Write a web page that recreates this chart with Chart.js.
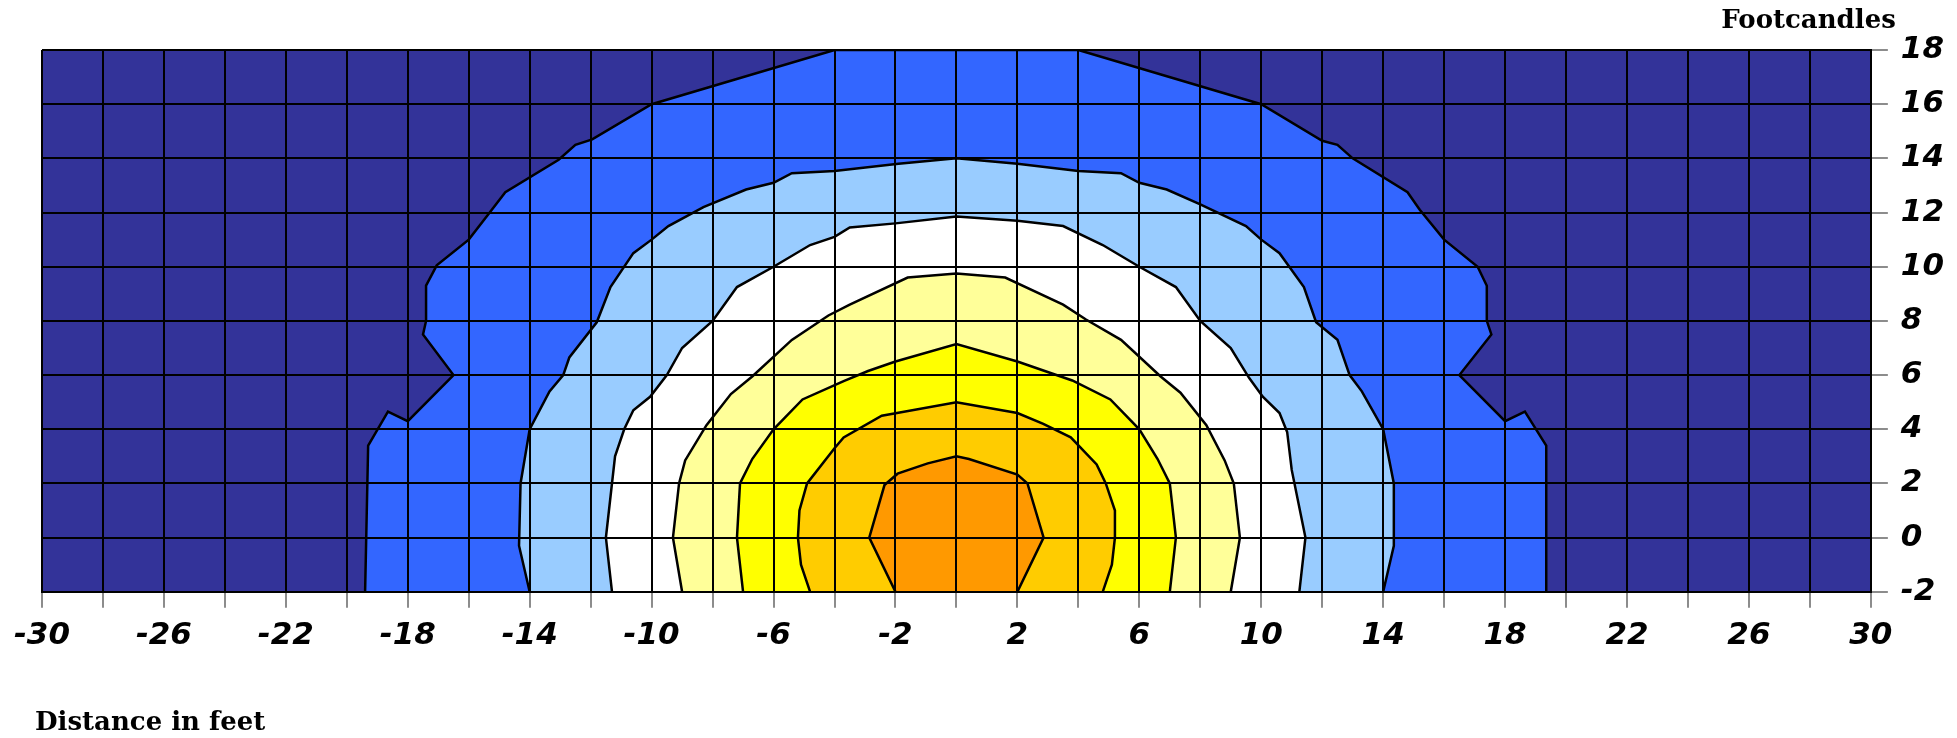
<!DOCTYPE html>
<html>
<head>
<meta charset="utf-8">
<title>Footcandles</title>
<script src="https://cdn.jsdelivr.net/npm/chart.js@4"></script>
<style>
  html, body { margin: 0; padding: 0; background: #fff; }
  #wrap { width: 1957px; height: 738px; position: relative; }
</style>
</head>
<body>
<div id="wrap"><canvas id="isoChart"></canvas></div>
<script>
// ── Axes ───────────────────────────────────────────────────────
const xRange = [-30, 30];
const yRange = [-2, 18];
const xTickLabels = [-30, -26, -22, -18, -14, -10, -6, -2, 2, 6, 10, 14, 18, 22, 26, 30];
const xAxisTitle = 'Distance in feet';
const yAxisTitle = 'Footcandles';

// ── Contour bands (outer edge of each colour) ─
const bandColors = ['#333399', '#3366FF', '#99CCFF', '#FFFFFF', '#FFFF99', '#FFFF00', '#FFCC00', '#FF9900'];

const edgeBlue = [
  [-19.4, -2], [-19.3, 3.4], [-18.65, 4.65], [-18.0, 4.3], [-16.5, 6.0], [-17.5, 7.5], [-17.4, 8.0],
  [-17.4, 9.3], [-17.05, 10.05], [-16.0, 11.0], [-15.35, 11.95], [-14.8, 12.75], [-13.05, 13.95],
  [-12.5, 14.5], [-11.95, 14.7], [-10.0, 16.0], [-4.0, 18.0],
  [4.0, 18.0], [10.0, 16.0], [12.0, 14.65], [12.5, 14.5], [13.0, 14.0], [14.8, 12.75], [15.2, 12.1],
  [16.0, 11.0], [17.1, 10.0], [17.4, 9.3], [17.4, 8.0], [17.55, 7.5], [16.5, 6.0], [18.0, 4.3],
  [18.65, 4.65], [19.35, 3.4], [19.35, -2],
];
const edgeLightBlue = [
  [-14.0, -2], [-14.35, -0.3], [-14.3, 2.0], [-14.0, 4.0], [-13.35, 5.4], [-12.9, 6.0], [-12.7, 6.65],
  [-11.8, 7.95], [-11.35, 9.25], [-10.6, 10.5], [-10.0, 11.0], [-9.45, 11.5], [-8.3, 12.2],
  [-6.9, 12.85], [-6.0, 13.1], [-5.4, 13.45], [-4.0, 13.53], [-1.9, 13.8], [0, 14.0],
  [2.0, 13.8], [4.0, 13.53], [5.4, 13.45], [6.0, 13.1], [6.9, 12.85], [8.0, 12.3], [9.5, 11.5],
  [10.0, 11.0], [10.6, 10.5], [11.4, 9.25], [11.8, 7.95], [12.5, 7.3], [12.9, 6.0], [13.3, 5.4],
  [14.0, 4.0], [14.35, 2.0], [14.35, -0.3], [14.0, -2],
];
const edgeWhite = [
  [-11.3, -2], [-11.5, 0], [-11.2, 3.0], [-10.9, 4.0], [-10.6, 4.7], [-10.05, 5.2], [-9.5, 6.0],
  [-9.0, 7.0], [-8.0, 8.0], [-7.2, 9.25], [-6.0, 10.0], [-4.8, 10.8], [-4.0, 11.1], [-3.5, 11.45],
  [-2.0, 11.6], [0, 11.85],
  [2.0, 11.7], [3.5, 11.5], [4.8, 10.8], [6.0, 10.0], [7.2, 9.25], [8.0, 8.0], [9.0, 7.0], [9.6, 5.9],
  [10.05, 5.2], [10.6, 4.6], [10.85, 3.9], [11.0, 2.5], [11.45, 0], [11.25, -2],
];
const edgeLightYellow = [
  [-9.0, -2], [-9.3, 0], [-9.1, 2.0], [-8.9, 2.85], [-8.2, 4.15], [-7.4, 5.3], [-6.7, 5.95],
  [-5.4, 7.3], [-4.2, 8.2], [-3.5, 8.6], [-1.6, 9.6], [0, 9.75],
  [1.6, 9.6], [3.5, 8.6], [4.25, 8.05], [5.4, 7.3], [6.7, 5.95], [7.35, 5.35], [8.2, 4.15],
  [8.8, 2.85], [9.1, 2.0], [9.3, 0], [9.0, -2],
];
const edgeYellow = [
  [-7.0, -2], [-7.2, 0], [-7.1, 2.0], [-6.7, 2.9], [-6.0, 4.0], [-5.05, 5.1], [-3.7, 5.78],
  [-2.9, 6.15], [-2.0, 6.5], [0, 7.15],
  [2.0, 6.5], [2.9, 6.15], [3.8, 5.8], [5.05, 5.1], [6.0, 4.0], [6.6, 2.9], [7.0, 2.0], [7.2, 0], [7.0, -2],
];
const edgeGold = [
  [-4.8, -2], [-5.1, -1.0], [-5.2, 0], [-5.15, 1.0], [-4.9, 2.0], [-4.0, 3.3], [-3.7, 3.7],
  [-2.45, 4.5], [-1.95, 4.6], [0, 5.0],
  [2.0, 4.6], [2.85, 4.2], [3.75, 3.7], [4.6, 2.7], [4.9, 2.0], [5.2, 1.0], [5.2, 0], [5.1, -1.0], [4.8, -2],
];
const edgeOrange = [
  [-2.0, -2], [-2.86, 0], [-2.36, 1.94], [-1.93, 2.36], [-0.94, 2.74], [0, 3.0], [0.41, 2.9],
  [2.0, 2.33], [2.33, 2.0], [2.86, 0], [2.0, -2],
];

// ── Construction des jeux de données ───────────────────────────
const frame = [[xRange[0], yRange[0]], [xRange[0], yRange[1]], [xRange[1], yRange[1]], [xRange[1], yRange[0]]];
const edges = [frame, edgeBlue, edgeLightBlue, edgeWhite, edgeLightYellow, edgeYellow, edgeGold, edgeOrange];

const datasets = edges.map((pts, i) => ({
  data: pts.map(([x, y]) => ({ x, y })),
  showLine: true,
  fill: 'shape',
  backgroundColor: bandColors[i],
  borderColor: '#000',
  borderWidth: i === 0 ? 0 : 2.5,
  pointRadius: 0,
  tension: 0,
  order: edges.length - i,
}));

const tickFont = { family: '"DejaVu Sans", sans-serif', size: 31, weight: 'bold', style: 'italic' };

// ── Titres d'axes (texte libre) ────────────────────────────────
const axisNotes = {
  id: 'axisNotes',
  afterDraw(chart) {
    const { ctx, chartArea } = chart;
    ctx.save();
    ctx.fillStyle = '#000';
    ctx.textBaseline = 'alphabetic';
    ctx.font = 'bold 26px "DejaVu Serif", serif';
    ctx.textAlign = 'right';
    ctx.fillText(yAxisTitle, chartArea.right + 25, chartArea.top - 22);
    ctx.textAlign = 'left';
    ctx.fillText(xAxisTitle, chartArea.left - 7, chartArea.bottom + 138);
    ctx.restore();
  },
};

new Chart(document.getElementById('isoChart'), {
  type: 'scatter',
  data: { datasets },
  plugins: [axisNotes],
  options: {
    responsive: true,
    maintainAspectRatio: false,
    animation: false,
    events: [],
    layout: { padding: { top: 50, left: 42, right: 0, bottom: 73 } },
    plugins: {
      legend: { display: false },
      tooltip: { enabled: false },
    },
    scales: {
      x: {
        type: 'linear',
        position: 'bottom',
        min: xRange[0],
        max: xRange[1],
        z: 1,
        ticks: {
          stepSize: 2,
          autoSkip: false,
          maxRotation: 0,
          padding: 10,
          color: '#000',
          font: tickFont,
          z: 1,
          callback: v => (xTickLabels.includes(v) ? String(v) : ''),
        },
        grid: { z: 1, color: '#000', lineWidth: 2, tickColor: '#666', tickWidth: 1.5, tickLength: 16 },
        border: { z: 1, color: '#000', width: 2 },
      },
      y: {
        type: 'linear',
        position: 'right',
        min: yRange[0],
        max: yRange[1],
        z: 1,
        ticks: { stepSize: 2, padding: 13, color: '#000', font: tickFont, z: 1 },
        grid: { z: 1, color: '#000', lineWidth: 2, tickColor: '#666', tickWidth: 1.5, tickLength: 17 },
        border: { z: 1, color: '#000', width: 2 },
      },
    },
  },
});
</script>
</body>
</html>
